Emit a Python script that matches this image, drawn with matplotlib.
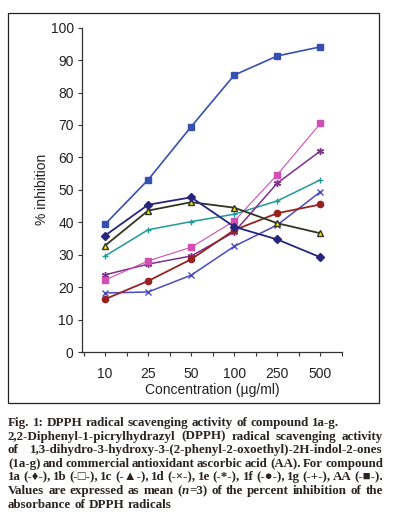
import matplotlib
matplotlib.use("Agg")
import matplotlib.pyplot as plt
from matplotlib.patches import Rectangle

W, H = 393, 523

concentrations = ["10", "25", "50", "100", "250", "500"]

# % inhibition per compound
c1a = [35.9, 45.4, 47.7, 38.6, 34.7, 29.2]
c1b = [22.2, 28.1, 32.3, 40.4, 54.7, 70.5]
c1c = [32.8, 43.6, 46.2, 44.5, 39.7, 36.6]
c1d = [18.2, 18.5, 23.7, 32.6, 39.2, 49.4]
c1e = [23.8, 27.1, 29.6, 37.0, 52.1, 62.0]
c1f = [16.3, 21.9, 28.6, 37.6, 42.8, 45.5]
c1g = [29.6, 37.7, 40.2, 42.5, 46.6, 53.1]
ascorbic = [39.4, 53.1, 69.5, 85.4, 91.3, 94.1]

series = [
    # values, line colour, marker, marker face, marker size, line width
    (c1g, "#1f9a9a", "+", "#1f9a9a", 5, 1.1),
    (c1d, "#4a4ac0", "x", "#4a4ac0", 4.5, 1.1),
    (c1e, "#7e2f8e", (6, 2, 0), "#7e2f8e", 5, 1.1),
    (c1b, "#d04fb0", "s", "#d04fb0", 4.5, 0.8),
    (c1f, "#962222", "o", "#962222", 4.5, 1.3),
    (c1c, "#333322", "^", "#f2e200", 5, 1.3),
    (c1a, "#26267e", "D", "#26267e", 4, 1.3),
    (ascorbic, "#3550b0", "s", "#3550b0", 5, 1.2),
]

plt.rcParams["font.family"] = ["Liberation Sans", "DejaVu Sans"]

fig = plt.figure(figsize=(W / 100, H / 100), dpi=100)
ax = fig.add_axes([82 / W, (H - 352) / H, (342 - 82) / W, (352 - 27.7) / H])

x = list(range(len(concentrations)))
for vals, col, mk, face, ms, lw in series:
    ax.plot(x, vals, color=col, lw=lw, marker=mk, markersize=ms,
            markerfacecolor=face, markeredgecolor=col,
            markeredgewidth=1.0)

ax.set_xlim(-0.535, 5.5)
ax.set_ylim(0, 100)
ax.set_yticks(range(0, 101, 10))
ax.set_xticks(x)
ax.set_xticklabels(concentrations)
ax.set_xticks([i + 0.5 for i in range(-1, 6)], minor=True)
ax.tick_params(axis="both", direction="out", length=3, width=0.8, colors="#333333",
               labelsize=10, labelcolor="#222222")
ax.tick_params(axis="x", which="major", pad=8)
ax.tick_params(axis="x", which="minor", direction="out", length=3, width=0.8, colors="#333333")
ax.tick_params(axis="y", pad=3)
for s in ["top", "right"]:
    ax.spines[s].set_visible(False)
for s in ["left", "bottom"]:
    ax.spines[s].set_color("#333333")
    ax.spines[s].set_linewidth(0.9)

ax.set_ylabel("% inhibition", fontsize=10, color="#222222")
ax.yaxis.set_label_coords(-(82 - 49) / (342 - 82), 0.5)
fig.text(212 / W, 1 - 390 / H, "Concentration (\u00b5g/ml)", ha="center", va="center",
         fontsize=10, color="#222222")

fig.add_artist(Rectangle((8 / W, (H - 403) / H), 371 / W, 390 / H, transform=fig.transFigure,
                         fill=False, edgecolor="#222222", linewidth=0.9))

# caption, justified word by word
cap_font = ["Liberation Serif", "DejaVu Serif", "DejaVu Sans"]
cap_size = 9.4
cap_color = "#2a2320"
lines = [
    ("Fig. 1: DPPH radical scavenging activity of compound 1a-g.", False),
    ("2,2-Diphenyl-1-picrylhydrazyl (DPPH) radical scavenging activity", True),
    ("of 1,3-dihydro-3-hydroxy-3-(2-phenyl-2-oxoethyl)-2H-indol-2-ones", True),
    ("(1a-g) and commercial antioxidant ascorbic acid (AA). For compound", True),
    ("1a (-\u2666-), 1b (-\u25a1-), 1c (-\u25b2-), 1d (-\u00d7-), 1e (-*-), 1f (-\u25cf-), 1g (-+-), AA (-\u25a0-).", True),
    ("Values are expressed as mean (|n|=3) of the percent inhibition of the", True),
    ("absorbance of DPPH radicals", False),
]
renderer = fig.canvas.get_renderer()
left, right = 8, 383


def measure(s, size, style="normal"):
    t = fig.text(0, 0, s, fontsize=size, family=cap_font, weight="bold", style=style)
    w = t.get_window_extent(renderer).width
    t.remove()
    return w


def split_words(line):
    pieces = []
    for w in line.split(" "):
        segs = []
        for j, part in enumerate(w.split("|")):
            if part:
                segs.append((part, "italic" if j % 2 == 1 else "normal"))
        pieces.append(segs)
    return pieces


y0 = 423
for i, (line, justify) in enumerate(lines):
    ypx = y0 + i * 13.6
    pieces = split_words(line)
    size = cap_size
    for _ in range(3):
        widths = [[measure(p, size, st) for p, st in segs] for segs in pieces]
        total = sum(sum(ws) for ws in widths)
        sp = measure("a a", size) - measure("aa", size)
        need = total + (len(pieces) - 1) * sp * 0.7
        if need <= right - left:
            break
        size *= (right - left) / need
    if justify and len(pieces) > 1:
        gap = (right - left - total) / (len(pieces) - 1)
    else:
        gap = sp
    xp = left
    for segs, ws in zip(pieces, widths):
        for (part, st), wd in zip(segs, ws):
            fig.text(xp / W, 1 - ypx / H, part, fontsize=size, family=cap_font, weight="bold",
                     style=st, color=cap_color, va="center", ha="left")
            xp += wd
        xp += gap

fig.savefig("out.png", dpi=100)
